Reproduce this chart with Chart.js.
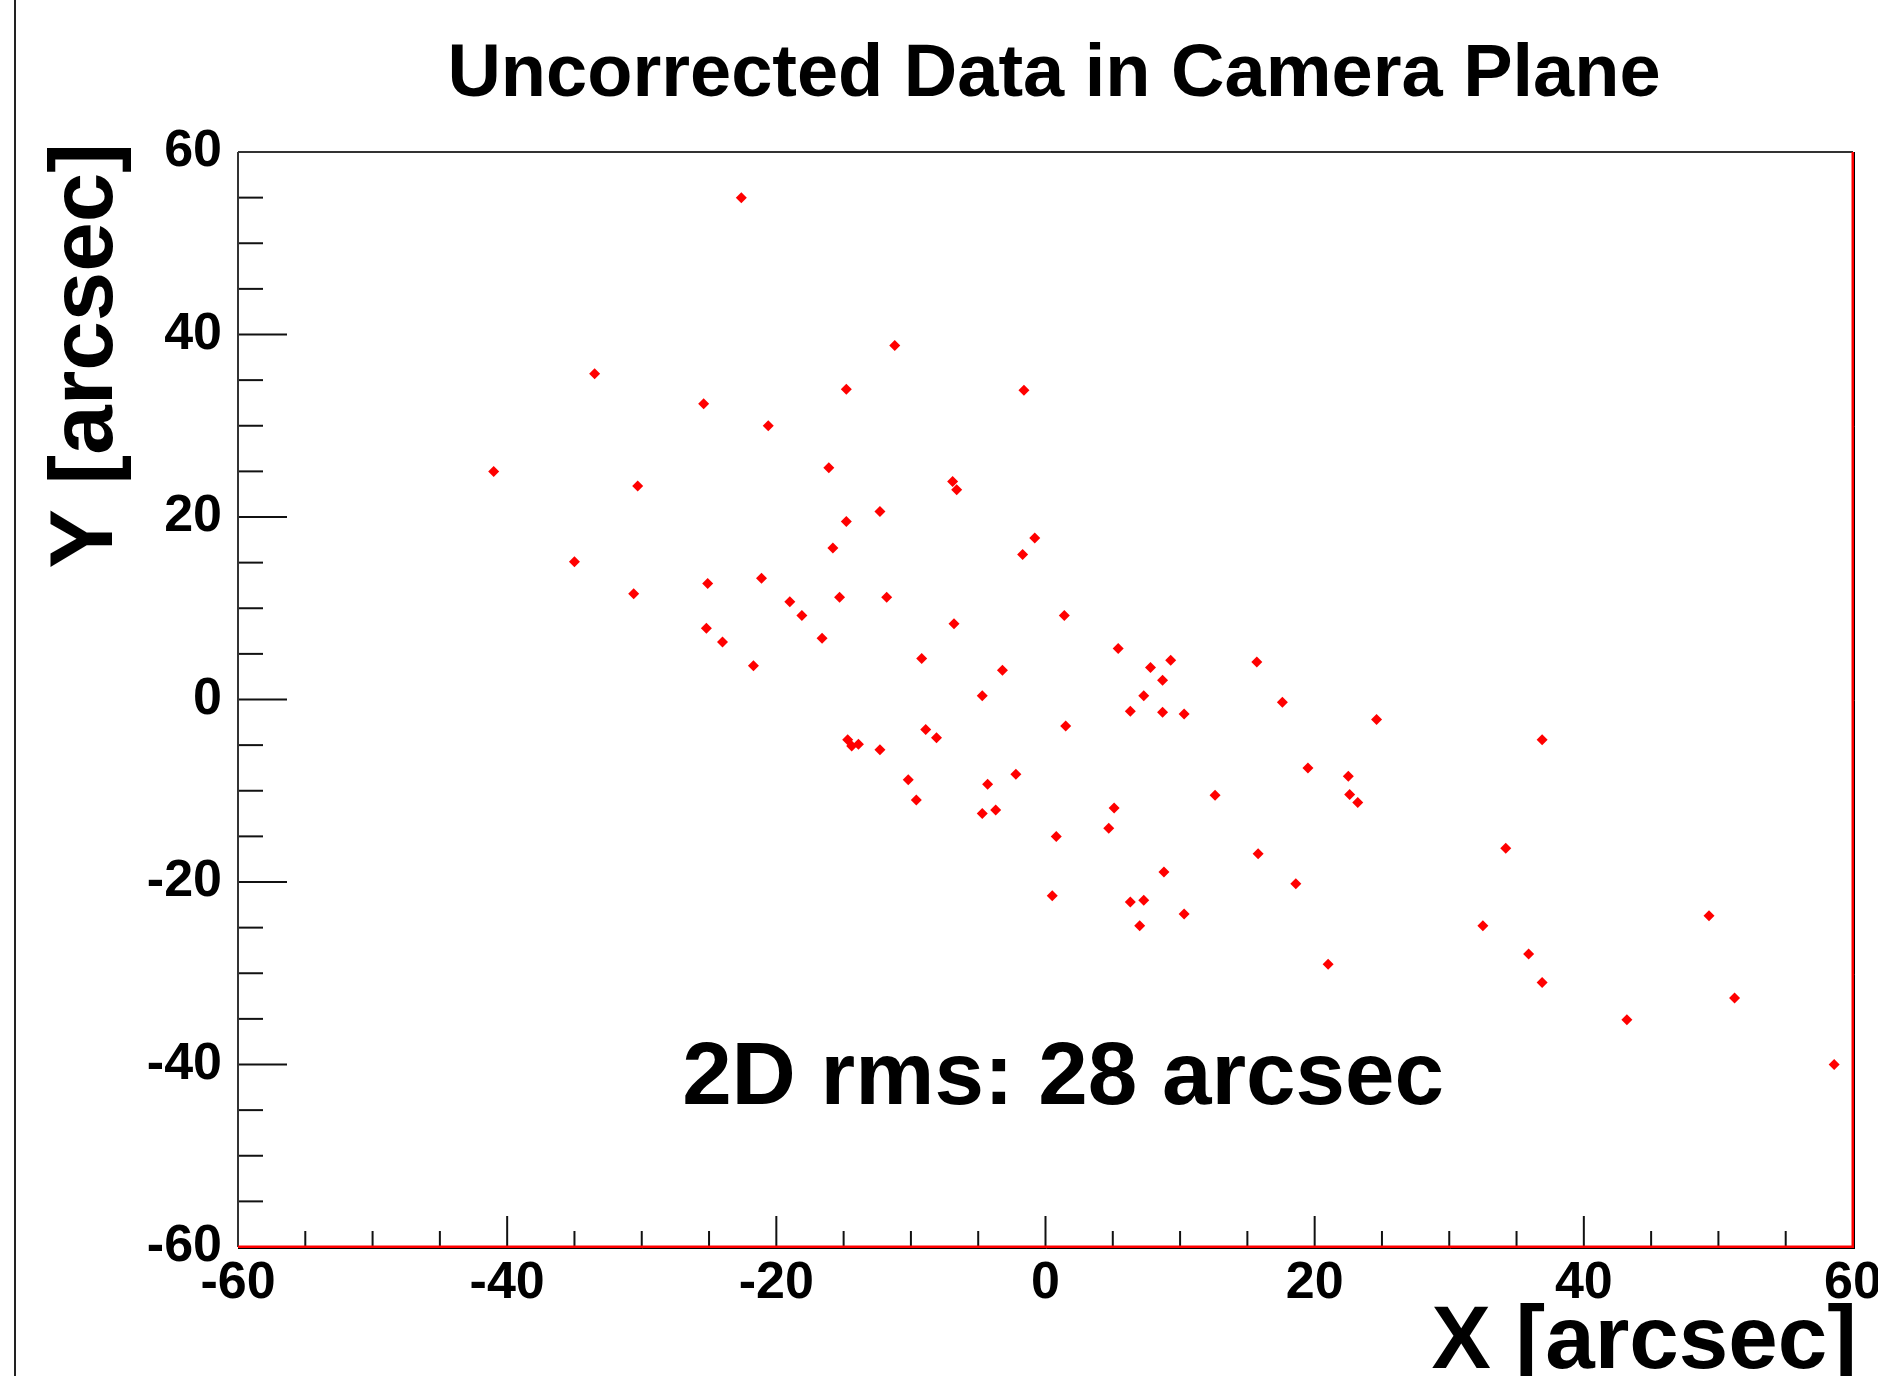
<!DOCTYPE html>
<html lang="en">
<head>
    <meta charset="UTF-8">
    <title>Uncorrected Data in Camera Plane</title>
    <style>
        html, body { margin: 0; padding: 0; background: #ffffff; }
        canvas { display: block; }
    </style>
</head>
<body>
    <canvas id="camera-chart" width="1878" height="1376"></canvas>
    <script src="https://cdn.jsdelivr.net/npm/chart.js"></script>
    <script>
        // Star offsets in the camera plane (arcsec)
        const xOffsets = [
            -22.6, -11.2, -33.5, -14.8, -25.4, -20.6, -41.0, -16.1, -30.3, -6.9,
            -6.6, -12.3, -14.8, -15.8, -35.0, -21.1, -25.1, -30.6, -15.3, -11.8,
            -19.0, -18.1, -6.8, -25.2, -1.6, -0.8, -1.7, 1.4, -24.0, -16.6,
            -21.7, -9.2, -4.7, -14.7, -14.4, -13.9, -12.3, -8.9, -8.1, -10.2,
            -9.6, -4.3, -4.7, 5.4, -3.2, 7.8, 9.3, 8.7, 15.7, 7.3,
            6.3, 8.7, 10.3, 17.6, 1.5, 24.6, -2.2, -3.7, 5.1, 4.7,
            0.8, 19.5, 22.5, 22.6, 23.2, 12.6, 15.8, 34.2, 8.8, 0.5,
            6.3, 7.3, 10.3, 7.0, 18.6, 32.5, 21.0, 36.9, 49.3, 35.9,
            36.9, 51.2, 43.2, 58.6
        ];
        const yOffsets = [
            55.0, 38.8, 35.7, 34.0, 32.4, 30.0, 25.0, 25.4, 23.4, 23.9,
            23.0, 20.6, 19.5, 16.6, 15.1, 13.3, 12.7, 11.6, 11.2, 11.2,
            10.7, 9.2, 8.3, 7.8, 33.9, 17.7, 15.9, 9.2, 6.3, 6.7,
            3.7, 4.5, 0.4, -4.4, -5.1, -4.9, -5.5, -3.3, -4.2, -8.8,
            -11.0, -9.3, -12.5, 5.6, 3.2, 3.5, 4.3, 2.1, 4.1, 0.4,
            -1.3, -1.4, -1.6, -0.3, -2.9, -2.2, -8.2, -12.1, -11.9, -14.1,
            -15.0, -7.5, -8.4, -10.4, -11.3, -10.5, -16.9, -16.3, -18.9, -21.5,
            -22.2, -22.0, -23.5, -24.8, -20.2, -24.8, -29.0, -4.4, -23.7, -27.9,
            -31.0, -32.7, -35.1, -40.0
        ];

        // labelled ticks (same on both axes) and minor tick spacing
        const majorTicks = [-60, -40, -20, 0, 20, 40, 60];
        const minorStep = 5;

        const chartTitle = 'Uncorrected Data in Camera Plane';
        const xTitle = 'X [arcsec]';
        const yTitle = 'Y [arcsec]';
        const rmsText = '2D rms: 28 arcsec';
        const rmsAnchor = { x: -27.0, y: -44.3 };

        const fontFamily = "'Liberation Sans', Arial, Helvetica, sans-serif";

        const points = xOffsets.map((x, i) => ({ x: x, y: yOffsets[i] }));

        function line(ctx, x1, y1, x2, y2) {
            ctx.beginPath();
            ctx.moveTo(x1, y1);
            ctx.lineTo(x2, y2);
            ctx.stroke();
        }

        // ROOT-like frame: inward ticks, red shadow on the frame, titles
        const rootStyle = {
            id: 'rootStyle',
            beforeDraw(chart) {
                const ctx = chart.ctx;
                ctx.save();
                ctx.fillStyle = '#ffffff';
                ctx.fillRect(0, 0, chart.width, chart.height);
                ctx.restore();
            },
            afterDraw(chart) {
                const ctx = chart.ctx;
                const { left, right, top, bottom } = chart.chartArea;
                const xs = chart.scales.x;
                const ys = chart.scales.y;
                ctx.save();

                // canvas edge line on the left
                ctx.fillStyle = '#222222';
                ctx.fillRect(14, 0, 2, chart.height);

                // tick marks
                ctx.strokeStyle = '#111111';
                ctx.lineWidth = 2;
                for (let v = xs.min; v <= xs.max; v += minorStep) {
                    const px = xs.getPixelForValue(v);
                    line(ctx, px, bottom, px, bottom - (majorTicks.includes(v) ? 31 : 16));
                }
                for (let v = ys.min; v <= ys.max; v += minorStep) {
                    const py = ys.getPixelForValue(v);
                    line(ctx, left, py, left + (majorTicks.includes(v) ? 49 : 25), py);
                }

                // frame
                ctx.strokeStyle = '#333333';
                ctx.lineWidth = 2;
                line(ctx, left, top, right, top);
                line(ctx, left, top, left, bottom);
                ctx.strokeStyle = '#ff0000';
                ctx.lineWidth = 3;
                line(ctx, left, bottom, right + 1, bottom);
                line(ctx, right, top, right, bottom);
                ctx.strokeStyle = '#000000';
                ctx.lineWidth = 1;
                line(ctx, left, bottom + 1.5, right + 2, bottom + 1.5);
                line(ctx, right + 1.5, top, right + 1.5, bottom + 2);

                // texts
                ctx.fillStyle = '#000000';
                ctx.textBaseline = 'alphabetic';

                ctx.font = 'bold 74px ' + fontFamily;
                ctx.textAlign = 'center';
                ctx.fillText(chartTitle, 1054, 96);

                ctx.font = 'bold 89px ' + fontFamily;
                ctx.textAlign = 'right';
                ctx.fillText(xTitle, 1857, 1368);

                ctx.save();
                ctx.translate(112, 143);
                ctx.rotate(-Math.PI / 2);
                ctx.fillText(yTitle, 0, 0);
                ctx.restore();

                ctx.font = 'bold 89px ' + fontFamily;
                ctx.textAlign = 'left';
                ctx.fillText(rmsText, xs.getPixelForValue(rmsAnchor.x), ys.getPixelForValue(rmsAnchor.y));

                ctx.restore();
            }
        };

        const tickFont = { family: fontFamily, size: 52, weight: 'bold', lineHeight: 1 };

        const ctx = document.getElementById('camera-chart').getContext('2d');
        const chart = new Chart(ctx, {
            type: 'scatter',
            data: {
                datasets: [{
                    label: 'Uncorrected',
                    data: points,
                    pointStyle: 'rectRot',
                    pointRadius: 5.5,
                    backgroundColor: '#ff0000',
                    borderWidth: 0
                }]
            },
            options: {
                responsive: false,
                devicePixelRatio: 1,
                animation: false,
                events: [],
                layout: {
                    padding: { top: 152, right: 25, bottom: 0, left: 0 }
                },
                plugins: {
                    legend: { display: false },
                    tooltip: { enabled: false }
                },
                scales: {
                    x: {
                        type: 'linear',
                        min: -60,
                        max: 60,
                        grid: { display: false, drawTicks: false },
                        border: { display: false },
                        afterBuildTicks: (scale) => { scale.ticks = majorTicks.map(v => ({ value: v })); },
                        afterFit: (scale) => {
                            scale.height = 129;
                            scale.paddingLeft = 0;
                            scale.paddingRight = 0;
                        },
                        ticks: {
                            color: '#000000',
                            font: tickFont,
                            padding: 11,
                            maxRotation: 0,
                            autoSkip: false
                        }
                    },
                    y: {
                        type: 'linear',
                        min: -60,
                        max: 60,
                        grid: { display: false, drawTicks: false },
                        border: { display: false },
                        afterBuildTicks: (scale) => { scale.ticks = majorTicks.map(v => ({ value: v })); },
                        afterFit: (scale) => {
                            scale.width = 238;
                            scale.paddingTop = 0;
                            scale.paddingBottom = 0;
                        },
                        ticks: {
                            color: '#000000',
                            font: tickFont,
                            padding: 16,
                            autoSkip: false
                        }
                    }
                }
            },
            plugins: [rootStyle]
        });
    </script>
</body>
</html>
